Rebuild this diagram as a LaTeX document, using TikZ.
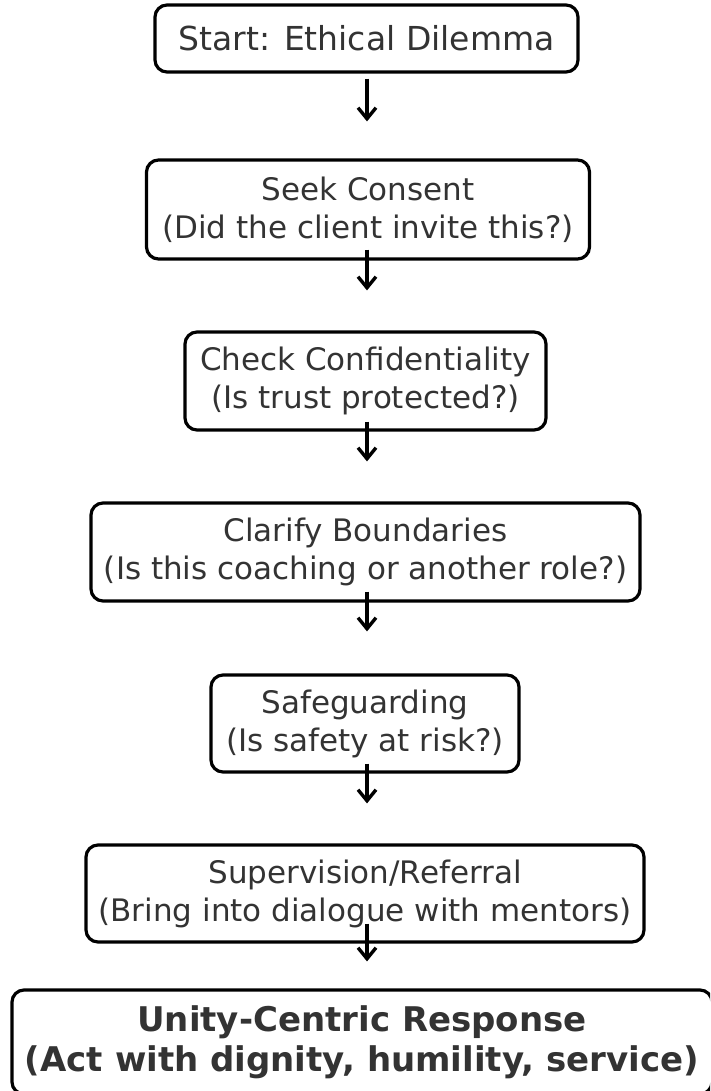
\documentclass[tikz,border=0pt]{standalone}
\usepackage{fontspec}
\setmainfont{DejaVu Sans}
\usetikzlibrary{arrows.meta,calc}
\definecolor{ink}{HTML}{333333}
\begin{document}
\begin{tikzpicture}[x=1pt,y=-1pt,
  stepbox/.style={draw=black, line width=3.2pt, rounded corners=12pt, fill=white,
    text=ink, align=center, inner sep=0pt,
    font=\fontsize{31}{38}\selectfont},
  flow/.style={line width=3.4pt,
    -{Straight Barb[length=11pt,width=18pt,line width=3.4pt]}}]
\useasboundingbox (0,0) rectangle (710,1091);
\clip (0,0) rectangle (710,1091);

% decision steps
\node[stepbox, minimum width=423pt, minimum height=67pt, font=\fontsize{33}{40}\selectfont]
  (start) at (366.5,38.5) {Start: Ethical Dilemma};
\node[stepbox, minimum width=443pt, minimum height=99pt] (consent) at (368,209.5)
  {Seek Consent\\(Did the client invite this?)};
\node[stepbox, minimum width=361pt, minimum height=98pt] (confid) at (365.5,381)
  {Check Confidentiality\\(Is trust protected?)};
\node[stepbox, minimum width=549pt, minimum height=98pt] (bound) at (365.5,552)
  {Clarify Boundaries\\(Is this coaching or another role?)};
\node[stepbox, minimum width=308pt, minimum height=97pt] (safe) at (365,723.5)
  {Safeguarding\\(Is safety at risk?)};
\node[stepbox, minimum width=558pt, minimum height=97pt] (superv) at (365,893.5)
  {Supervision/Referral\\(Bring into dialogue with mentors)};
\node[stepbox, minimum width=700pt, minimum height=104pt,
  font=\fontsize{34}{40}\selectfont\bfseries]
  (unity) at (362,1042)
  {Unity-Centric Response\\(Act with dignity, humility, service)};

% connectors
\draw[flow] ($(start.south)+(0.5,5)$)    -- ($(consent.north)+(-1,-37)$);
\draw[flow] ($(consent.south)+(-1,-11)$) -- ($(confid.north)+(1.5,-40)$);
\draw[flow] ($(confid.south)+(1.5,-10)$) -- ($(bound.north)+(1.5,-40)$);
\draw[flow] ($(bound.south)+(1.5,-11)$)  -- ($(safe.north)+(2,-42)$);
\draw[flow] ($(safe.south)+(2,-10)$)     -- ($(superv.north)+(2,-40)$);
\draw[flow] ($(superv.south)+(2,-20)$)   -- ($(unity.north)+(5,-27)$);
\end{tikzpicture}
\end{document}
